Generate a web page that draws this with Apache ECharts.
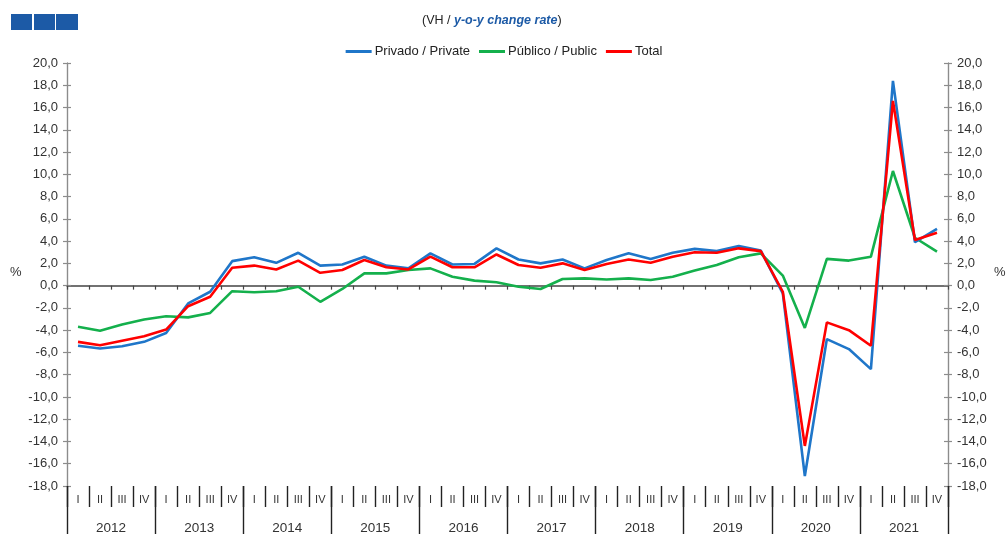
<!DOCTYPE html>
<html>
<head>
<meta charset="utf-8">
<script src="https://cdn.jsdelivr.net/npm/echarts@6/dist/echarts.min.js"></script>
<style>
html,body{margin:0;padding:0;background:#fff;}
#c{width:1008px;height:535px;}
</style>
</head>
<body>
<div id="c"></div>
<script>
var quarters = [];
var years = ['2012','2013','2014','2015','2016','2017','2018','2019','2020','2021'];
var qLabels = ['I','II','III','IV'];
years.forEach(function(y){ qLabels.forEach(function(q){ quarters.push(y + ' ' + q); }); });

var privado = [-5.4, -5.65, -5.45, -5.05, -4.25, -1.6, -0.55, 2.2, 2.55, 2.05, 2.95, 1.8, 1.9, 2.6, 1.8, 1.55, 2.9, 1.9, 1.95, 3.35, 2.35, 2.0, 2.35, 1.55, 2.3, 2.9, 2.4, 2.95, 3.3, 3.1, 3.55, 3.15, -0.7, -17.1, -4.8, -5.7, -7.5, 18.4, 3.9, 5.1];
var publico = [-3.7, -4.05, -3.5, -3.05, -2.75, -2.85, -2.45, -0.5, -0.6, -0.5, -0.1, -1.45, -0.3, 1.1, 1.1, 1.4, 1.55, 0.8, 0.45, 0.3, -0.1, -0.3, 0.6, 0.65, 0.55, 0.65, 0.5, 0.8, 1.35, 1.85, 2.55, 2.9, 0.9, -3.8, 2.4, 2.25, 2.6, 10.3, 4.3, 3.05];
var total = [-5.05, -5.35, -4.95, -4.55, -3.95, -1.85, -1.0, 1.6, 1.8, 1.45, 2.25, 1.15, 1.4, 2.3, 1.65, 1.45, 2.6, 1.65, 1.65, 2.8, 1.85, 1.6, 2.0, 1.4, 1.95, 2.35, 2.05, 2.6, 3.0, 2.95, 3.35, 3.1, -0.55, -14.4, -3.3, -4.0, -5.4, 16.6, 4.1, 4.75];

var seriesNames = ['Privado / Private', 'Público / Public', 'Total'];
var colors = ['#1f76c9', '#14b04c', '#ff0000'];

var FONT = 'Liberation Sans, Arial, sans-serif';
var fmt = function(v){ return v.toFixed(1).replace('.', ','); };

var yBase = { type: 'value', min: -18, max: 20, interval: 2, splitLine: {show:false} };
function yAx(pos, showLabel, inside){
  return Object.assign({}, yBase, {
    position: pos,
    axisLine: {show: true, lineStyle: {color: '#8c8c8c', width: 1.2}},
    axisTick: {show: true, inside: inside, length: 4, lineStyle: {color: '#8c8c8c', width: 1.2}},
    axisLabel: {show: showLabel, formatter: fmt, margin: 9, color: '#333', fontSize: 13, fontFamily: FONT}
  });
}

var quarterData = [];
years.forEach(function(){ qLabels.forEach(function(q){ quarterData.push(q); }); });

var chart = echarts.init(document.getElementById('c'));
chart.setOption({
  animation: false,
  backgroundColor: '#fff',
  grid: {left: 67, right: 60, top: 63, bottom: 48, containLabel: false},
  legend: {
    data: seriesNames,
    top: 40, left: 'center',
    icon: 'rect', itemWidth: 26, itemHeight: 3, itemGap: 9,
    textStyle: {fontSize: 13, color: '#222', fontFamily: FONT, padding: [0,0,0,-2]}
  },
  graphic: [
    {type:'rect', left: 11, top: 14, shape:{width:21, height:16}, style:{fill:'#1c5aa6'}},
    {type:'rect', left: 34, top: 14, shape:{width:21, height:16}, style:{fill:'#1c5aa6'}},
    {type:'rect', left: 56, top: 14, shape:{width:22, height:16}, style:{fill:'#1c5aa6'}},
    {type:'text', left: 422, top: 14, style:{
      text: '{a|(VH / }{b|y-o-y change rate}{a|)}',
      rich: {
        a: {fontSize: 12.5, fill: '#222', fontFamily: FONT},
        b: {fontSize: 12.5, fill: '#1c5aa6', fontWeight: 'bold', fontStyle: 'italic', fontFamily: FONT}
      }
    }},
    {type:'text', left: 10, top: 266, style:{text:'%', fontSize: 13, fill:'#333', fontFamily: FONT}},
    {type:'text', left: 994, top: 266, style:{text:'%', fontSize: 13, fill:'#333', fontFamily: FONT}}
  ],
  xAxis: [
    {
      type: 'category', data: quarters, boundaryGap: true, position: 'bottom',
      axisLine: {show: true, onZero: true, lineStyle: {color: '#444', width: 1.5}},
      axisTick: {show: true, interval: 0, length: 4, lineStyle: {color: '#444', width: 1.2}},
      axisLabel: {show: false}, splitLine: {show: false}
    },
    {
      type: 'category', data: quarterData, boundaryGap: true, position: 'bottom',
      axisLine: {show: false, onZero: false},
      axisTick: {show: true, length: 21, interval: 0, lineStyle: {color: '#222', width: 1.4}},
      axisLabel: {show: true, interval: 0, margin: 8, fontSize: 11, color: '#333', fontFamily: FONT},
      splitLine: {show: false}
    },
    {
      type: 'category', data: years, boundaryGap: true, position: 'bottom',
      axisLine: {show: false, onZero: false},
      axisTick: {show: true, length: 48, interval: 0, lineStyle: {color: '#222', width: 1.4}},
      axisLabel: {show: true, interval: 0, margin: 35, fontSize: 13.5, color: '#333', fontFamily: FONT},
      splitLine: {show: false}
    }
  ],
  yAxis: [
    yAx('left', true, false),
    yAx('right', true, false),
    yAx('left', false, true),
    yAx('right', false, true)
  ],
  series: [
    {name: seriesNames[0], type: 'line', data: privado, xAxisIndex: 0, yAxisIndex: 0, symbol: 'none', lineStyle: {width: 2.6, color: colors[0]}, itemStyle: {color: colors[0]}, z: 3},
    {name: seriesNames[1], type: 'line', data: publico, xAxisIndex: 0, yAxisIndex: 0, symbol: 'none', lineStyle: {width: 2.6, color: colors[1]}, itemStyle: {color: colors[1]}, z: 2},
    {name: seriesNames[2], type: 'line', data: total, xAxisIndex: 0, yAxisIndex: 0, symbol: 'none', lineStyle: {width: 2.6, color: colors[2]}, itemStyle: {color: colors[2]}, z: 4}
  ]
});
</script>
</body>
</html>
